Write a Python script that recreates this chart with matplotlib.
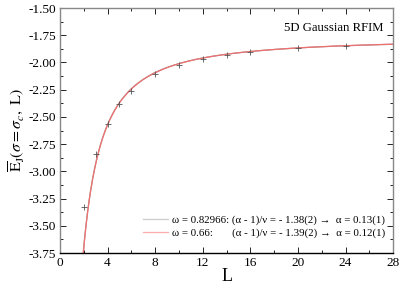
import numpy as np
import matplotlib
matplotlib.use('Agg')
import matplotlib.pyplot as plt
from matplotlib.ticker import MultipleLocator

plt.rcParams['font.family'] = ['Liberation Serif', 'DejaVu Serif']
plt.rcParams['mathtext.fontset'] = 'stix'

# data points
L_data = [2, 3, 4, 5, 6, 8, 10, 12, 14, 16, 20, 24]
E_data = [-3.33, -2.84, -2.568, -2.383, -2.258, -2.108, -2.021, -1.968,
          -1.932, -1.904, -1.869, -1.844]

# fit parameters: E = Einf + A*L^-x (1 + ...) , x = (1-alpha)/nu
fit_gray = dict(einf=-1.774, a=-5.894, c=1.558, x=1.38, w=0.82966)
fit_red = dict(einf=-1.773, a=-6.244, c=1.844, x=1.39, w=0.66)

label_gray = 'ω = 0.82966: (α - 1)/ν = - 1.38(2) →  α = 0.13(1)'
label_red = 'ω = 0.66:       (α - 1)/ν = - 1.39(2) →  α = 0.12(1)'


def fit_curve(p, L):
    return p['einf'] + p['a'] * L ** (-p['x']) + p['c'] * L ** (-p['x'] - p['w'])


fig = plt.figure(figsize=(4.02, 2.88), dpi=100)
ax = fig.add_axes([0.149, 0.1215, 0.829, 0.8505])

Ls = np.linspace(1.8, 28, 600)
ax.plot(Ls, fit_curve(fit_gray, Ls), color='#999999', lw=0.9, label=label_gray)
ax.plot(Ls, fit_curve(fit_red, Ls), color='#f07070', lw=0.9, label=label_red)
ax.plot(L_data, E_data, ls='none', marker='+', ms=5, mew=0.6, color='#555555')

ax.set_xlim(0, 28)
ax.set_ylim(-3.75, -1.5)
ax.xaxis.set_major_locator(MultipleLocator(4))
ax.xaxis.set_minor_locator(MultipleLocator(2))
ax.yaxis.set_major_locator(MultipleLocator(0.25))
ax.yaxis.set_minor_locator(MultipleLocator(0.125))
ax.yaxis.set_major_formatter(matplotlib.ticker.FormatStrFormatter('%.2f'))
ax.tick_params(which='both', direction='in', top=True, right=True,
               labelsize=9.5, pad=3)
ax.tick_params(which='major', length=4, width=0.6)
ax.tick_params(which='minor', length=2.5, width=0.6)

for s in ['left', 'right', 'top']:
    ax.spines[s].set_color('#888888')
    ax.spines[s].set_linewidth(1.0)
ax.spines['bottom'].set_linewidth(1.0)

ax.set_xlabel('L', fontsize=13, labelpad=-1)
ax.set_ylabel(r'$\overline{\mathrm{E}}_{\mathrm{J}}(\sigma = \sigma_c,\ \mathrm{L})$',
              fontsize=11.5, labelpad=1)

ax.text(0.97, 0.92, '5D Gaussian RFIM', transform=ax.transAxes,
        ha='right', va='center', fontsize=9.2)

leg = ax.legend(loc='lower right', bbox_to_anchor=(0.995, 0.035), frameon=False,
                fontsize=7.8, handlelength=2.3, handletextpad=0.35,
                labelspacing=0.3, borderaxespad=0.2)
leg.get_lines()[0].set_color('#cccccc')
leg.get_lines()[1].set_color('#ffaaaa')

fig.savefig('out.png', dpi=100)
